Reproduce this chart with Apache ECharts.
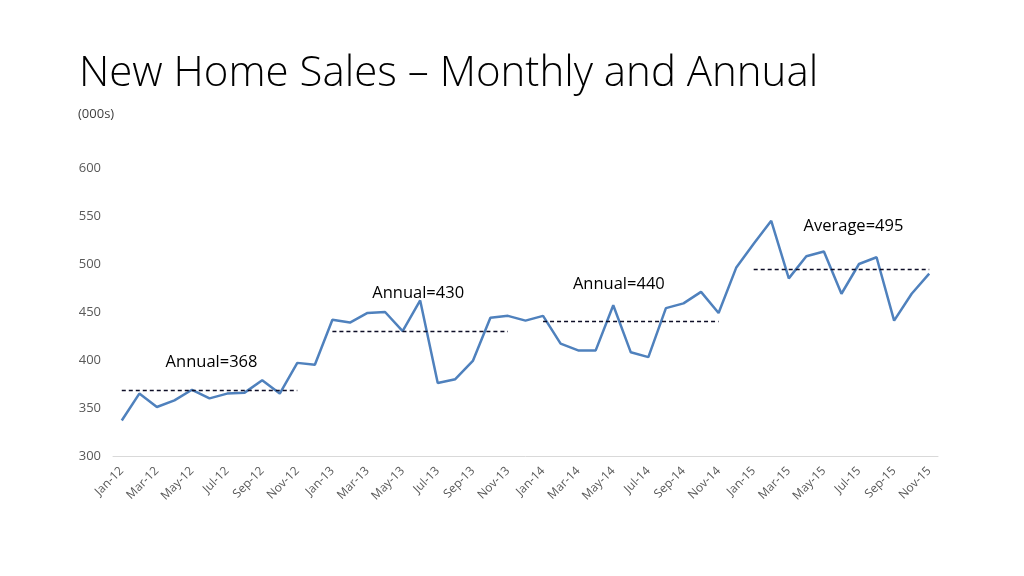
<!DOCTYPE html>
<html>
<head>
<meta charset="utf-8">
<script src="https://cdn.jsdelivr.net/npm/echarts@6/dist/echarts.min.js"></script>
<style>html,body{margin:0;padding:0;background:#fff}#c{width:1024px;height:576px}</style>
</head>
<body>
<div id="c"></div>
<script>
const months = ['Jan-12','Feb-12','Mar-12','Apr-12','May-12','Jun-12','Jul-12','Aug-12','Sep-12','Oct-12','Nov-12','Dec-12',
'Jan-13','Feb-13','Mar-13','Apr-13','May-13','Jun-13','Jul-13','Aug-13','Sep-13','Oct-13','Nov-13','Dec-13',
'Jan-14','Feb-14','Mar-14','Apr-14','May-14','Jun-14','Jul-14','Aug-14','Sep-14','Oct-14','Nov-14','Dec-14',
'Jan-15','Feb-15','Mar-15','Apr-15','May-15','Jun-15','Jul-15','Aug-15','Sep-15','Oct-15','Nov-15'];
const sales = [337,365,351,358,369,360,365,366,379,365,397,395,
442,439,449,450,430,462,376,380,399,444,446,441,
446,417,410,410,457,408,403,454,459,471,449,496,
521,545,485,508,513,469,500,507,441,469,490];
const refStart = ['Jan-12','Jan-13','Jan-14','Jan-15'];
const refEnd = ['Nov-12','Nov-13','Nov-14','Nov-15'];
const refValues = [368,430,440,495];
const refNames = ['Annual','Annual','Annual','Average'];
const yTicks = [300,350,400,450,500,550,600];

const labelDist = [20,29,29,34];
const labelShift = [2,-2,-12,12];

const chart = echarts.init(document.getElementById('c'));
chart.setOption({
  backgroundColor:'#fff',
  animation:false,
  title:[
    {text:'New Home Sales \u2013 Monthly and Annual', left:79, top:53, padding:0,
     textStyle:{fontFamily:'Open Sans', fontWeight:300, fontSize:42, color:'#000'}},
    {text:'(000s)', left:78, top:108, padding:0,
     textStyle:{fontFamily:'Open Sans', fontWeight:'normal', fontSize:13, color:'#404040'}}
  ],
  grid:{left:113, right:86, top:168, bottom:120},
  xAxis:{
    type:'category', data:months, boundaryGap:true,
    axisLine:{lineStyle:{color:'#d9d9d9', width:1}},
    axisTick:{show:false},
    axisLabel:{interval:1, rotate:45, color:'#595959', fontSize:12, fontFamily:'Open Sans', margin:13}
  },
  yAxis:{
    type:'value', min:yTicks[0], max:yTicks[yTicks.length-1], interval:50,
    axisLine:{show:false}, axisTick:{show:false}, splitLine:{show:false},
    axisLabel:{color:'#595959', fontSize:13, fontFamily:'Open Sans', margin:12}
  },
  series:[{
    type:'line', data:sales, symbol:'none',
    lineStyle:{color:'#4f81bd', width:2.5},
    markLine:{
      symbol:['none','none'], silent:true,
      lineStyle:{type:[4,3], color:'#0d0d26', width:1.3},
      data: refValues.map((v,i)=>[
        {coord:[refStart[i], v],
         label:{show:true, position:'middle', formatter:refNames[i]+'='+v, distance:labelDist[i],
                offset:[labelShift[i],0],
                color:'#000', fontSize:16.5, fontFamily:'Open Sans'}},
        {coord:[refEnd[i], v]}
      ])
    }
  }]
});
</script>
</body>
</html>
